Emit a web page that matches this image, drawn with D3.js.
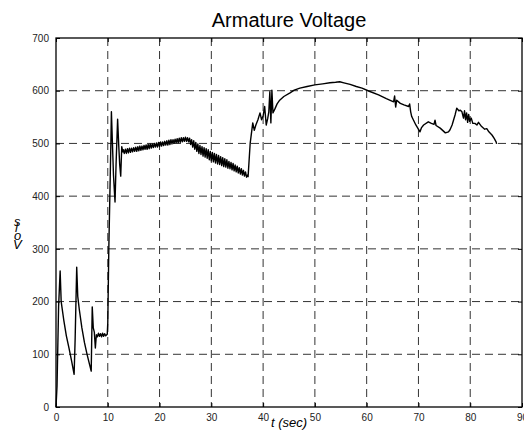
<!DOCTYPE html>
<html>
<head>
<meta charset="utf-8">
<script src="https://cdn.jsdelivr.net/npm/d3@7"></script>
<style>
  body { margin: 0; background: #fff; }
  svg { display: block; font-family: "Liberation Sans", Arial, sans-serif; }
  .tick text { fill: #222; font-size: 10px; }
</style>
</head>
<body>
<div id="chart"></div>
<script>
// time (s) and armature voltage (V)
var time = [
  0, 0.2, 0.5, 0.8, 1.0, 1.5, 2.0, 2.5, 3.0, 3.5, 3.7, 4.0, 4.2, 4.5, 5.0, 5.5, 6.0, 6.5, 6.8,
  7.0, 7.2, 7.4, 7.6, 7.8, 8.0, 8.2, 8.4, 8.6, 8.8, 9.0, 9.2, 9.4, 9.6, 9.9,
  10.0, 10.2, 10.4, 10.6, 10.7, 10.9, 11.1, 11.4, 11.6, 11.9, 12.1, 12.3, 12.5, 12.7, 12.9,
  13.0, 13.2, 13.4, 13.6, 13.8, 14.0, 14.2, 14.4, 14.6, 14.8, 15.0, 15.2, 15.4, 15.6, 15.8,
  16.0, 16.2, 16.4, 16.6, 16.8, 17.0, 17.2, 17.4, 17.6, 17.8, 18.0, 18.2, 18.4, 18.6, 18.8,
  19.0, 19.2, 19.4, 19.6, 19.8, 20.0, 20.2, 20.4, 20.6, 20.8, 21.0, 21.2, 21.4, 21.6, 21.8,
  22.0, 22.2, 22.4, 22.6, 22.8, 23.0, 23.2, 23.4, 23.6, 23.8, 24.0, 24.2, 24.4, 24.6, 24.8,
  25.0, 25.2, 25.4, 25.6, 25.8, 26.0, 26.2, 26.4, 26.6, 26.8, 27.0, 27.2, 27.4, 27.6, 27.8,
  28.0, 28.2, 28.4, 28.6, 28.8, 29.0, 29.2, 29.4, 29.6, 29.8, 30.0, 30.2, 30.4, 30.6, 30.8,
  31.0, 31.2, 31.4, 31.6, 31.8, 32.0, 32.2, 32.4, 32.6, 32.8, 33.0, 33.2, 33.4, 33.6, 33.8,
  34.0, 34.2, 34.4, 34.6, 34.8, 35.0, 35.2, 35.4, 35.6, 35.8, 36.0, 36.2, 36.4, 36.6, 36.8,
  37.0, 37.1,
  37.5, 38.0, 38.3, 38.6, 39.0, 39.4, 39.7, 40.0, 40.3, 40.6, 40.9, 41.1, 41.3, 41.5, 41.7, 41.9,
  42.3, 42.7, 43.2, 44.0, 45.2, 46.0, 47.1, 48.5, 50.0, 51.5, 52.9, 54.0, 54.8, 55.6, 56.8,
  58.0, 59.1, 60.5, 62.3, 63.8, 65.2, 65.4, 65.6, 65.8, 66.5, 67.2, 68.1, 68.3, 68.5, 68.7,
  69.5, 70.3, 70.6, 71.0, 71.9, 72.5, 73.0, 73.2, 73.4, 74.2, 75.2, 75.8, 76.1, 76.5, 76.8,
  77.1, 77.4, 77.8, 78.1, 78.4, 78.7, 78.9, 79.1, 79.3, 79.5, 79.7, 79.9, 80.2, 80.5, 80.9,
  81.3, 81.6, 82.2, 82.8, 83.2, 83.6, 84.2, 84.6, 85.0, 85.1
];
var volts = [
  0, 40, 190, 258, 200, 165, 135, 112, 88, 62, 130, 265, 210, 185, 150, 122, 100, 80, 68,
  190, 150, 142, 112, 137, 133, 140, 134, 139, 133, 140, 134, 139, 135, 138,
  160, 300, 400, 500, 560, 500, 440, 389, 460, 546, 500, 460, 438, 494, 484,
  488, 481, 489, 481, 490, 482, 491, 483, 491, 484, 492, 485, 493, 485, 494,
  486, 495, 487, 495, 488, 496, 489, 497, 489, 498, 490, 499, 491, 499, 492,
  500, 493, 501, 493, 502, 494, 503, 495, 503, 496, 504, 497, 505, 497, 506,
  498, 507, 499, 507, 500, 508, 501, 509, 501, 510, 502, 511, 503, 511, 504,
  512, 504, 511, 503, 510, 498, 507, 493, 505, 489, 502, 485, 499, 481, 496,
  479, 494, 476, 492, 474, 490, 472, 488, 469, 485, 467, 483, 465, 481, 463,
  479, 461, 477, 460, 475, 458, 473, 456, 471, 455, 469, 453, 466, 452, 464,
  450, 462, 448, 459, 446, 457, 444, 454, 442, 452, 440, 449, 438, 446, 436,
  440, 437,
  500, 539, 525, 535, 545, 558, 545, 552, 570, 535, 548, 560, 598, 539, 601, 558,
  566, 575, 582, 589, 596, 601, 605, 608, 611, 613, 615, 616, 617, 615, 612,
  608, 605, 599, 592, 585, 579, 590, 569, 582, 576, 573, 570, 575, 560, 551,
  535, 522, 530, 535, 541, 538, 536, 544, 534, 529, 520, 522, 526, 535, 545,
  555, 567, 562, 563, 560, 548, 562, 545, 558, 540, 555, 542, 548, 538, 538,
  535, 540, 532, 527, 528, 522, 516, 510, 503, 499
];
var xTicks = [0, 10, 20, 30, 40, 50, 60, 70, 80, 90];
var yTicks = [0, 100, 200, 300, 400, 500, 600, 700];
var yLabelLetters = ["V", "o", "l", "s"];

var W = 524, H = 437;
var L = 56, R = 522, T = 38, B = 407;

var svg = d3.select("#chart").append("svg")
  .attr("width", W)
  .attr("height", H);

var x = d3.scaleLinear().domain([0, 90]).range([L, R]);
var y = d3.scaleLinear().domain([0, 700]).range([B, T]);

// dashed grid
svg.append("g").attr("class", "grid")
  .selectAll("line.gx").data(xTicks.slice(1, -1))
  .enter().append("line")
  .attr("x1", function(d) {return x(d);}).attr("x2", function(d) {return x(d);})
  .attr("y1", T).attr("y2", B)
  .attr("stroke", "#333").attr("stroke-width", 1)
  .attr("stroke-dasharray", "8,5");
svg.select(".grid")
  .selectAll("line.gy").data(yTicks.slice(1, -1))
  .enter().append("line")
  .attr("x1", L).attr("x2", R)
  .attr("y1", function(d) {return y(d);}).attr("y2", function(d) {return y(d);})
  .attr("stroke", "#333").attr("stroke-width", 1)
  .attr("stroke-dasharray", "8,5");

// axes, ticks pointing inward like matlab
svg.append("g")
  .attr("transform", "translate(0," + B + ")")
  .call(d3.axisBottom(x).tickValues(xTicks).tickSizeInner(-4).tickSizeOuter(0).tickPadding(7))
  .call(function(g) {g.select(".domain").remove();});
svg.append("g")
  .attr("transform", "translate(0," + T + ")")
  .call(d3.axisTop(x).tickValues(xTicks).tickSizeInner(-4).tickSizeOuter(0))
  .call(function(g) {g.select(".domain").remove(); g.selectAll("text").remove();});
svg.append("g")
  .attr("transform", "translate(" + L + ",0)")
  .call(d3.axisLeft(y).tickValues(yTicks).tickSizeInner(-4).tickSizeOuter(0).tickPadding(7))
  .call(function(g) {g.select(".domain").remove();});
svg.append("g")
  .attr("transform", "translate(" + R + ",0)")
  .call(d3.axisRight(y).tickValues(yTicks).tickSizeInner(-4).tickSizeOuter(0))
  .call(function(g) {g.select(".domain").remove(); g.selectAll("text").remove();});

svg.selectAll(".tick line").attr("stroke", "#000");

// frame
svg.append("rect")
  .attr("x", L).attr("y", T)
  .attr("width", R - L).attr("height", B - T)
  .attr("fill", "none").attr("stroke", "#000").attr("stroke-width", 1.3);

// the trace
var pts = time.map(function(t, i) {return [t, volts[i]];});
var line = d3.line()
  .x(function(d) {return x(d[0]);})
  .y(function(d) {return y(d[1]);});
svg.append("path")
  .datum(pts)
  .attr("d", line)
  .attr("fill", "none")
  .attr("stroke", "#000")
  .attr("stroke-width", 1.4)
  .attr("stroke-linejoin", "round");

// title and labels
svg.append("text")
  .attr("x", (L + R) / 2).attr("y", 27)
  .attr("text-anchor", "middle")
  .style("font-size", "20px")
  .text("Armature Voltage");

svg.append("text")
  .attr("x", (L + R) / 2).attr("y", 427)
  .attr("text-anchor", "middle")
  .style("font-size", "13px").style("font-style", "italic")
  .text("t (sec)");

// stacked letters of the y label (overlapping, as in the original render)
var yLab = [[13, 249], [14, 240], [15, 232], [14, 226]];
svg.selectAll(".ylab").data(yLabelLetters)
  .enter().append("text")
  .attr("class", "ylab")
  .attr("x", function(d, i) {return yLab[i][0];})
  .attr("y", function(d, i) {return yLab[i][1];})
  .style("font-size", "13px").style("font-style", "italic")
  .text(function(d) {return d;});
</script>
</body>
</html>
